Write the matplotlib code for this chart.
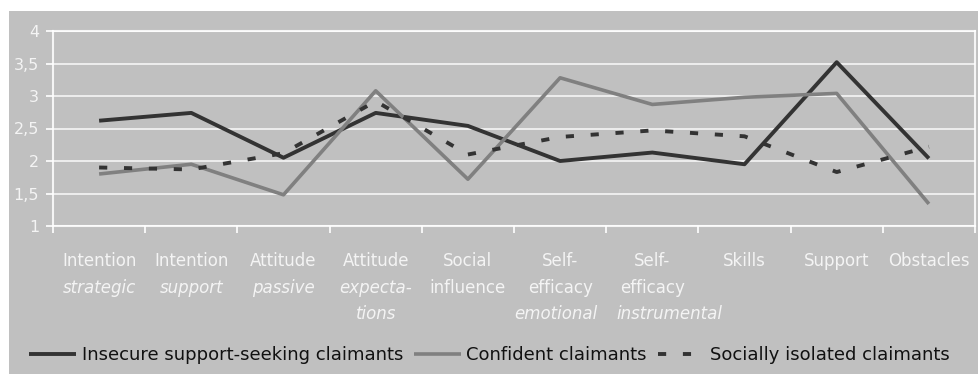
import numpy as np
import matplotlib
matplotlib.use("Agg")
import matplotlib.pyplot as plt
from matplotlib.patches import Rectangle

# Datos
cat_main = ["Intention", "Intention", "Attitude", "Attitude", "Social",
            "Self-", "Self-", "Skills", "Support", "Obstacles"]
cat_rest = [[("strategic", True)], [("support", True)], [("passive", True)],
            [("expecta-", True), ("tions", True)], [("influence", False)],
            [("efficacy", False), ("emotional", True)],
            [("efficacy", False), ("instrumental", True)], [], [], []]
insecure = [2.62, 2.74, 2.05, 2.74, 2.54, 2.00, 2.13, 1.95, 3.52, 2.04]
confident = [1.80, 1.95, 1.48, 3.08, 1.72, 3.28, 2.87, 2.98, 3.04, 1.34]
isolated = [1.90, 1.87, 2.12, 2.92, 2.10, 2.37, 2.47, 2.38, 1.83, 2.22]
y_ticks = [1, 1.5, 2, 2.5, 3, 3.5, 4]
y_labels = ["1", "1,5", "2", "2,5", "3", "3,5", "4"]

plt.rcParams['font.family'] = ['DejaVu Sans']
bg = '#c0c0c0'
txt = '#f4f4f4'

fig = plt.figure(figsize=(9.79, 3.74), dpi=100)
fig.patches.append(Rectangle((9/979, 0), 1, 1 - 11/374, transform=fig.transFigure,
                             facecolor=bg, edgecolor='none', zorder=-10))
ax = fig.add_axes([53/979, 1 - 226/374, (975 - 53)/979, (226 - 31)/374])
ax.set_facecolor(bg)

x = np.arange(len(cat_main))
l1, = ax.plot(x, insecure, color='#333333', lw=2.8, solid_capstyle='butt', zorder=3)
l2, = ax.plot(x, confident, color='#808080', lw=2.6, solid_capstyle='butt', zorder=3)
l3, = ax.plot(x, isolated, color='#333333', lw=2.8, linestyle=(0, (2.1, 4.3)), zorder=3)

ax.set_xlim(-0.5, 9.5)
ax.set_ylim(1, 4)
ax.set_yticks(y_ticks)
ax.set_yticklabels(y_labels, color=txt, fontsize=11.5)
ax.yaxis.grid(True, color='white', lw=1.2, alpha=0.85)
ax.set_axisbelow(True)
ax.tick_params(axis='y', colors='white', length=5, width=1.2, labelcolor=txt, pad=5)
ax.set_xticks(np.arange(-0.5, 10, 1))
ax.set_xticklabels([])
ax.tick_params(axis='x', colors='white', length=5, width=1.2)
for s in ax.spines.values():
    s.set_color('white')
    s.set_linewidth(1.5)
    s.set_alpha(0.85)

# Etiquetas de categorías (primera línea normal, el resto a veces en cursiva)
for i in range(len(cat_main)):
    ax.annotate(cat_main[i], xy=(i, 0), xycoords=('data', 'axes fraction'),
                xytext=(0, -19), textcoords='offset points', ha='center', va='top',
                color=txt, fontsize=12)
    for j, (t, it) in enumerate(cat_rest[i]):
        dx = 0
        if t == "instrumental":
            dx = 12
        elif t == "emotional":
            dx = -3
        ax.annotate(t, xy=(i, 0), xycoords=('data', 'axes fraction'),
                    xytext=(dx, -19 - 19 * (j + 1)), textcoords='offset points',
                    ha='center', va='top', color=txt, fontsize=12,
                    style='italic' if it else 'normal')

fig.legend([l1, l2, l3], ["Insecure support-seeking claimants", "Confident claimants",
                          "Socially isolated claimants"],
           loc='center', bbox_to_anchor=(0.5, 1 - 355/374), ncol=3, frameon=False,
           fontsize=13, handlelength=2.6, handletextpad=0.3, columnspacing=0.6,
           labelcolor='#111111')

fig.savefig("out.png", dpi=100, facecolor='white')
